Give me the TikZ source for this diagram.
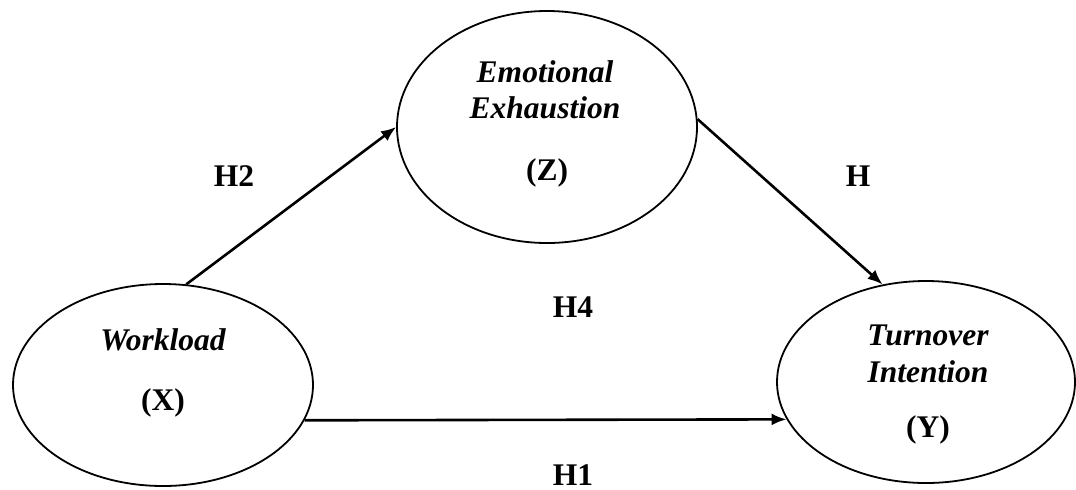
\documentclass[tikz,border=0pt]{standalone}
\usepackage{fontspec}
\setmainfont{Liberation Serif}
\usetikzlibrary{shapes.geometric, arrows.meta}
\tikzstyle{latent} = [ellipse, draw=black, line width=0.9pt, inner sep=0pt]
\tikzstyle{construct} = [anchor=base, inner sep=0pt, font=\fontsize{15.75}{18}\selectfont\bfseries\itshape]
\tikzstyle{varlabel} = [anchor=base, inner sep=0pt, font=\fontsize{15.75}{18}\selectfont\bfseries]
\tikzstyle{hlabel} = [anchor=base, inner sep=0pt, font=\fontsize{15.75}{18}\selectfont\bfseries]
\tikzstyle{arrow} = [line width=1.3pt, -{Latex[length=7.5pt,width=6pt]}]

\begin{document}
\begin{tikzpicture}[x=0.5pt, y=-0.5pt]
\fill[white] (0,0) rectangle (1076,489);
\useasboundingbox (0,0) rectangle (1076,489);
\node (workload) [latent, minimum width=150pt, minimum height=101pt] at (163,385) {};
\node (exhaustion) [latent, minimum width=150pt, minimum height=116pt] at (547,127) {};
\node (turnover) [latent, minimum width=149pt, minimum height=101pt] at (926,382) {};
\node (workloadtxt) [construct] at (163,350) {Workload};
\node (xtxt) [varlabel] at (163,410) {(X)};
\node (emotionaltxt) [construct] at (545,82) {Emotional};
\node (exhaustiontxt) [construct] at (545,118) {Exhaustion};
\node (ztxt) [varlabel] at (547,180) {(Z)};
\node (turnovertxt) [construct] at (928,345) {Turnover};
\node (intentiontxt) [construct] at (928,382) {Intention};
\node (ytxt) [varlabel] at (928,437) {(Y)};
\node (htwo) [hlabel] at (234,186) {H2};
\node (h) [hlabel] at (858,186) {H};
\node (hfour) [hlabel] at (573,317) {H4};
\node (hone) [hlabel] at (573,485) {H1};
\draw [arrow] (workload.77) -- (exhaustion.180);
\draw [arrow] (exhaustion.3) -- (turnover.114);
\draw [arrow] (workload.-14) -- (turnover.195);
\end{tikzpicture}
\end{document}
